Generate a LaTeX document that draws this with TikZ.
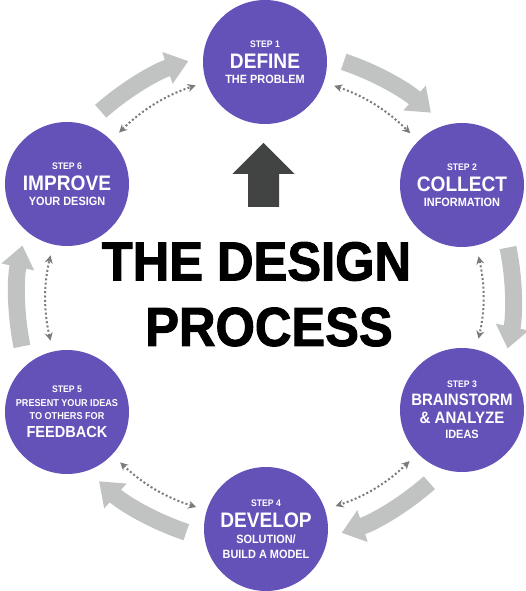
\documentclass[tikz,border=0pt]{standalone}
\usepackage{fontspec}
\setmainfont{Liberation Sans}
\newfontfamily\stepfont{Liberation Sans}[FakeStretch=0.91]
\newfontfamily\titlefont{Liberation Sans}[FakeStretch=0.92,FakeBold=1.8]
\usepackage{tikz}
\usetikzlibrary{arrows.meta}
\usepackage{xcolor}
\definecolor{steppurple}{HTML}{6452B9}
\definecolor{ringgray}{HTML}{C1C3C2}
\definecolor{dotgray}{HTML}{7A7B7B}
\definecolor{uparrowgray}{HTML}{424343}

\newcommand\steptag[1]{{\fontsize{9.5}{0}\selectfont #1}}
\newcommand\stepbig[2][21]{{\fontsize{#1}{0}\selectfont #2}}
\newcommand\stepsub[2][12]{{\fontsize{#1}{0}\selectfont #2}}

\begin{document}
\begin{tikzpicture}[x=1pt, y=1pt,
    stepnode/.style={circle, fill=steppurple, minimum size=124pt, inner sep=0pt,
      text=white, align=center,
      font={\stepfont\bfseries\baselineskip=0pt\lineskip=6.5pt\lineskiplimit=0pt}},
    cycarrow/.style={draw=ringgray, line width=17pt,
      -{Triangle[width=32pt, length=22pt]}},
    dotarrow/.style={draw=dotgray, line width=2pt, dash pattern=on 2pt off 2.3pt,
      {Stealth[length=8pt, width=8pt]}-{Stealth[length=8pt, width=8pt]},
      shorten <=11pt, shorten >=11pt},
    titletext/.style={inner sep=0pt, text=black,
      font={\titlefont\bfseries\fontsize{55}{55}\selectfont}}]
  \useasboundingbox (-265,-294) rectangle (261,297);
  \coordinate (ring) at (0,0);

  % the six steps
  \node[stepnode] (s1) at (0,235)
    {\steptag{STEP 1}\\ \stepbig{DEFINE}\\ \stepsub{THE PROBLEM}};
  \node[stepnode] (s2) at (197,112)
    {\steptag{STEP 2}\\ \stepbig{COLLECT}\\ \stepsub{INFORMATION}};
  \node[stepnode] (s3) at (197,-113)
    {\steptag{STEP 3}\\ \stepbig[16.5]{BRAINSTORM}\\ \stepbig[16.5]{\& ANALYZE}\\ \stepsub{IDEAS}};
  \node[stepnode] (s4) at (1,-232)
    {\steptag{STEP 4}\\ \stepbig{DEVELOP}\\ \stepsub{SOLUTION/}\\ \stepsub{BUILD A MODEL}};
  \node[stepnode] (s5) at (-198,-115)
    {\steptag{STEP 5}\\ \stepsub[10]{PRESENT YOUR IDEAS}\\ \stepsub[10]{TO OTHERS FOR}\\ \stepbig[16]{FEEDBACK}};
  \node[stepnode] (s6) at (-198,113)
    {\steptag{STEP 6}\\ \stepbig{IMPROVE}\\ \stepsub{YOUR DESIGN}};

  % outer cycle
  \foreach \a in {120,60,0,-60,-120,180}
    \draw[cycarrow] ([shift={({\a+11.5}:248)}]ring)
      arc[start angle=\a+11.5, end angle=\a-12, radius=248];

  % inner links
  \foreach \a/\b in {s1/s2, s2/s3, s3/s4, s4/s5, s5/s6, s6/s1}
    \draw[dotarrow] (\a) to[bend left=13] (\b);

  % centre
  \fill[uparrowgray] (-1.5,154) -- (29.5,123) -- (14,123) -- (14,90)
    -- (-17,90) -- (-17,123) -- (-32.5,123) -- cycle;
  \node[titletext] (title1) at (-8.5,35.5) {THE DESIGN};
  \node[titletext] (title2) at (4,-30) {PROCESS};
\end{tikzpicture}
\end{document}
